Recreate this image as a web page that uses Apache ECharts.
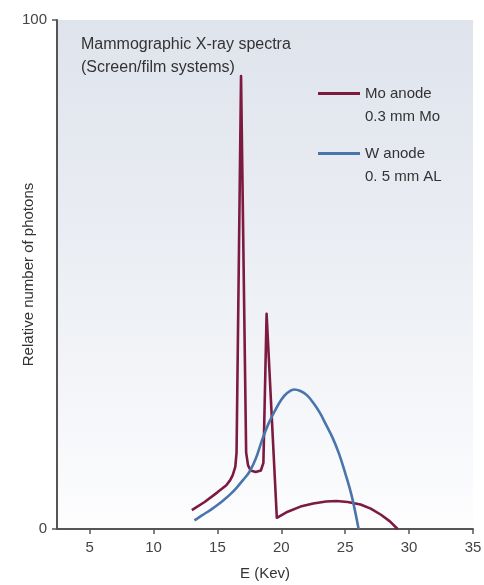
<!DOCTYPE html>
<html>
<head>
<meta charset="utf-8">
<script src="https://cdn.jsdelivr.net/npm/echarts@6/dist/echarts.min.js"></script>
<style>
html,body{margin:0;padding:0;background:#fff;}
#chart{width:484px;height:585px;}
</style>
</head>
<body>
<div id="chart"></div>
<script>
// Energy (keV) and relative photon counts
var moEnergy = [13.0,14.0,15.0,15.7,16.0,16.2,16.4,16.5,16.85,16.95,17.25,17.4,17.6,18.0,18.4,18.6,18.85,18.9,19.65,20.5,21.5,22.5,23.5,24.3,25.2,26.2,27.0,27.8,28.5,29.1];
var moCounts = [3.7,5.3,7.2,8.6,9.6,10.6,12.2,15,89,89,15,12.5,11.5,11.2,11.5,13,42.3,42.3,2.2,3.4,4.4,5.0,5.4,5.5,5.3,4.8,4.0,2.8,1.5,0];
var wEnergy = [13.2,13.5,14.0,14.5,15.0,15.5,16.0,16.5,17.0,17.5,18.0,18.5,19.0,19.5,20.0,20.5,21.0,21.5,22.0,22.5,23.0,23.5,24.0,24.5,25.0,25.5,26.05];
var wCounts = [1.7,2.2,3.0,3.8,4.7,5.7,6.8,8.1,9.6,11.2,13.8,17.5,20.7,23.2,25.4,26.8,27.4,27.1,26.3,24.8,22.9,20.5,18.0,14.9,11.0,6.6,0];
var xTicks = [5,10,15,20,25,30,35];
var seriesNames = ['Mo anode', 'W anode'];
var seriesSub = ['0.3 mm Mo', '0. 5 mm AL'];
var titleLines = ['Mammographic X-ray spectra', '(Screen/film systems)'];

function pairs(xs, ys){ return xs.map(function(x,i){ return [x, ys[i]]; }); }

var chart = echarts.init(document.getElementById('chart'), null, {renderer:'canvas'});
var font = '"Liberation Sans", Arial, sans-serif';
var subMap = {};
seriesNames.forEach(function(n,i){ subMap[n] = seriesSub[i]; });

chart.setOption({
  animation: false,
  textStyle: {fontFamily: font},
  title: {
    text: titleLines.join('\n'),
    left: 81, top: 33, padding: 0,
    textStyle: {fontSize: 16, fontWeight: 'normal', color: '#333', lineHeight: 23, fontFamily: font}
  },
  legend: {
    orient: 'vertical',
    left: 318, top: 59,
    padding: 0,
    itemGap: -9,
    itemWidth: 42, itemHeight: 3,
    icon: 'rect',
    data: seriesNames,
    formatter: function(n){ return ' \n' + n + '\n' + subMap[n]; },
    textStyle: {fontSize: 15, color: '#333', lineHeight: 23, fontFamily: font}
  },
  grid: {
    left: 57, right: 11, top: 20, bottom: 56,
    outerBoundsMode: 'none',
    containLabel: false,
    show: true, borderWidth: 0,
    backgroundColor: new echarts.graphic.LinearGradient(0,0,0,1,[
      {offset:0, color:'#dfe3ec'},
      {offset:0.5, color:'#eceff4'},
      {offset:1, color:'#fdfdfe'}
    ])
  },
  xAxis: {
    type: 'value', min: 2.45, max: 35,
    name: 'E (Kev)', nameLocation: 'middle', nameGap: 37, nameMoveOverlap: false,
    nameTextStyle: {fontSize: 15, color: '#333', fontFamily: font},
    axisLine: {show: true, onZero: false, lineStyle: {color: '#555', width: 2}},
    axisTick: {show: true, length: 5, customValues: xTicks, lineStyle: {color: '#555', width: 1.5}},
    axisLabel: {customValues: xTicks, fontSize: 15, color: '#444', margin: 11, fontFamily: font},
    splitLine: {show: false}
  },
  yAxis: {
    type: 'value', min: 0, max: 100, interval: 100,
    name: 'Relative number of photons', nameLocation: 'middle', nameGap: 21, nameRotate: 90, nameMoveOverlap: false,
    nameTextStyle: {fontSize: 15, color: '#333', fontFamily: font},
    axisLine: {show: true, lineStyle: {color: '#555', width: 2}},
    axisTick: {show: true, length: 5, lineStyle: {color: '#555', width: 1.5}},
    axisLabel: {fontSize: 15, color: '#444', margin: 10, fontFamily: font},
    splitLine: {show: false}
  },
  series: [
    {
      name: seriesNames[0], type: 'line', symbol: 'none', smooth: false,
      data: pairs(moEnergy, moCounts),
      lineStyle: {color: '#7c1a40', width: 2.6, join: 'round'},
      itemStyle: {color: '#7c1a40'}
    },
    {
      name: seriesNames[1], type: 'line', symbol: 'none', smooth: 0.4,
      data: pairs(wEnergy, wCounts),
      lineStyle: {color: '#4a75ac', width: 2.6},
      itemStyle: {color: '#4a75ac'}
    }
  ]
});
</script>
</body>
</html>
